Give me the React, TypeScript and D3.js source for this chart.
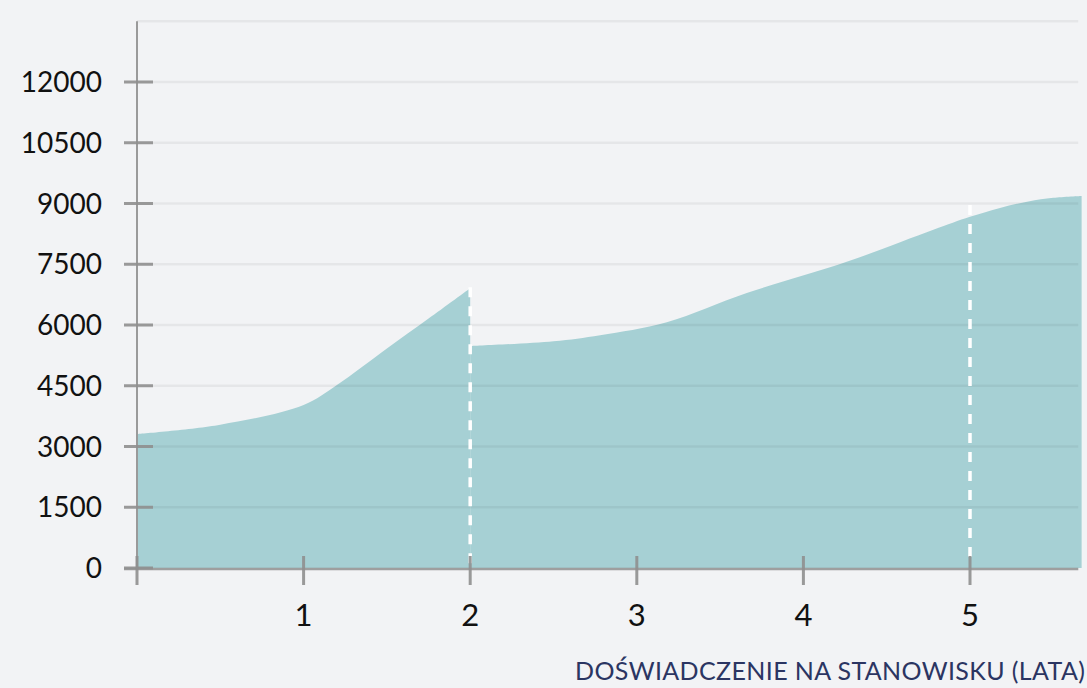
import React from 'react';
import * as d3 from 'd3';

// salary curve before promotion (years 0-2) and after (2-5.67)
const yearsBefore = [0, 0.5, 1, 1.2, 1.5, 1.75, 2];
const salaryBefore = [3310, 3540, 4025, 4520, 5420, 6160, 6910];
const yearsAfter = [2, 2.5, 2.78, 3.18, 3.66, 4.26, 4.78, 5, 5.18, 5.35, 5.5, 5.67];
const salaryAfter = [5480, 5600, 5750, 6070, 6790, 7560, 8350, 8670, 8890, 9050, 9140, 9185];

const yTicks = [0, 1500, 3000, 4500, 6000, 7500, 9000, 10500, 12000];
const gridValues = [1500, 3000, 4500, 6000, 7500, 9000, 10500, 12000, 13500];
const xTicks = [0, 1, 2, 3, 4, 5];
const xLabels = ['', '1', '2', '3', '4', '5'];

// dashed markers: [year, top value]
const markerYears = [2, 5];
const markerTops = [6930, 8960];

const xTitle = 'DOŚWIADCZENIE NA STANOWISKU (LATA)';

const W = 1087;
const H = 688;

export default function App() {
  const x = d3.scaleLinear().domain([0, 5]).range([137, 970]);
  const y = d3.scaleLinear().domain([0, 12000]).range([568, 82]);

  const area = d3
    .area<[number, number]>()
    .x((d) => x(d[0]))
    .y0(y(0))
    .y1((d) => y(d[1]))
    .curve(d3.curveCatmullRom.alpha(0.5));

  const before = yearsBefore.map((v, i) => [v, salaryBefore[i]] as [number, number]);
  const after = yearsAfter.map((v, i) => [v, salaryAfter[i]] as [number, number]);

  const xEnd = x(5.65);
  const font = 'Lato, "Open Sans", sans-serif';

  return (
    <svg width={W} height={H} style={{ position: 'absolute', left: 0, top: 0 }} fontFamily={font}>
      <rect width={W} height={H} fill="#f2f3f5" />

      <path d={area(before) || ''} fill="#a6d0d4" />
      <path d={area(after) || ''} fill="#a6d0d4" />

      {/* gridlines */}
      {gridValues.map((v) => (
        <line key={v} x1={x(0)} x2={xEnd} y1={y(v)} y2={y(v)} stroke="#000" strokeOpacity={0.05} strokeWidth={2.5} />
      ))}

      {/* dashed markers */}
      {markerYears.map((m, i) => (
        <line
          key={m}
          x1={x(m)}
          x2={x(m)}
          y1={y(markerTops[i])}
          y2={y(0) - 4}
          stroke="#fff"
          strokeWidth={3.5}
          strokeDasharray="10,9"
        />
      ))}

      {/* y axis */}
      <line x1={x(0)} x2={x(0)} y1={y(13500)} y2={y(0) + 2} stroke="#9a9a9a" strokeWidth={2} />
      {yTicks.map((v) => (
        <g key={v}>
          <line x1={124} x2={153} y1={y(v)} y2={y(v)} stroke="#8f8f8f" strokeOpacity={0.9} strokeWidth={3} />
          <text x={102} y={y(v) + 10} textAnchor="end" fontSize={28} fill="#111">
            {v}
          </text>
        </g>
      ))}

      {/* x axis */}
      <line x1={124} x2={xEnd} y1={y(0) + 1} y2={y(0) + 1} stroke="#8f8f8f" strokeOpacity={0.85} strokeWidth={2.5} />
      {xTicks.map((t, i) => (
        <g key={t}>
          <line x1={x(t)} x2={x(t)} y1={556} y2={585} stroke="#8f8f8f" strokeOpacity={0.9} strokeWidth={3} />
          <text x={x(t)} y={626} textAnchor="middle" fontSize={31} fill="#111">
            {xLabels[i]}
          </text>
        </g>
      ))}

      <text x={1085} y={680} textAnchor="end" fontSize={25} fill="#2b3562" textLength={510} lengthAdjust="spacing">
        {xTitle}
      </text>
    </svg>
  );
}
